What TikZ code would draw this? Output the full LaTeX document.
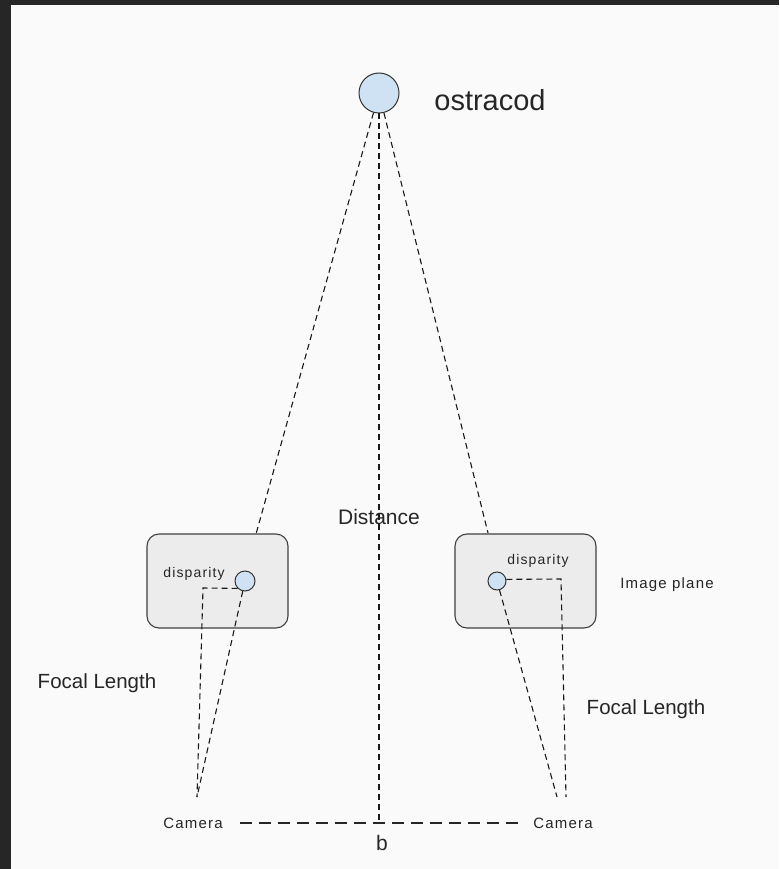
\documentclass[tikz,border=0pt]{standalone}
\usepackage{fontspec}
\setmainfont{Liberation Sans}
\newfontfamily\spacedfont[LetterSpace=8]{Liberation Sans}
\usetikzlibrary{positioning}
\definecolor{ostrablue}{RGB}{207,226,243}
\definecolor{planegray}{RGB}{236,236,236}
\definecolor{framedark}{RGB}{38,38,38}
\definecolor{paper}{RGB}{250,250,250}

\begin{document}
\begin{tikzpicture}[x=1pt, y=-1pt,
    blob/.style={circle, draw=black!80, fill=ostrablue, inner sep=0pt, minimum size=#1, line width=1pt},
    plane/.style={draw=black!75, fill=planegray, rounded corners=12pt, minimum width=141pt, minimum height=94pt, line width=1.1pt},
    lbl/.style={font=\fontsize{#1}{#1}\selectfont, text=black!85, inner sep=1pt},
    small/.style={font=\spacedfont\fontsize{#1}{#1}\selectfont, text=black!85, inner sep=1pt},
    ray/.style={dash pattern=on 6pt off 4pt, line width=1.1pt, black!90},
    baseline/.style={dash pattern=on 12pt off 7pt, line width=1.2pt, black!85}
]
% frame and paper
\fill[paper] (0,0) rectangle (779,869);
\fill[framedark] (0,0) rectangle (779,5);
\fill[framedark] (0,0) rectangle (11,869);
\useasboundingbox (0,0) rectangle (779,869);

\node[blob=40pt] (ostracod) at (379,93) {};
\node[lbl=29] (ostratext) at (490,100) {ostracod};

\node[plane] (leftplane) at (217.5,581) {};
\node[plane] (rightplane) at (525.5,581) {};
\node[blob=20pt] (leftdisp) at (245,581) {};
\node[blob=18pt] (rightdisp) at (497,581) {};
\node[small=14] (leftdtext) at (194,574) {disparity};
\node[small=14] (rightdtext) at (538,561) {disparity};
\node[small=15] (imgplane) at (667,585) {Image plane};

\node[lbl=20.5] (focalleft) at (97,683) {Focal Length};
\node[lbl=20.5] (focalright) at (646,709) {Focal Length};
\node[small=15] (leftcam) at (193,823) {Camera};
\node[small=15] (rightcam) at (563,823) {Camera};

\coordinate (lefthit) at (256,534);
\coordinate (righthit) at (488,533);
\coordinate (leftfocus) at (197,797);
\coordinate (leftcorner) at (203,588);
\coordinate (rightfocus) at (557,797);
\coordinate (rightcorner) at (561,579);
\coordinate (rightfoot) at (566,797);
\coordinate (base) at (379,823);
\coordinate[right=16pt of leftcam] (baseleft);
\coordinate[left=14pt of rightcam] (baseright);

% rays from the ostracod
\draw[ray] (ostracod) -- (lefthit);
\draw[ray] (ostracod) -- (righthit);
\draw[ray] (ostracod) -- (base);

% left camera
\draw[ray] (leftdisp) -- (leftfocus);
\draw[ray] (leftdisp.225) -- (leftcorner) -- (leftfocus);

% right camera
\draw[ray] (rightdisp) -- (rightfocus);
\draw[ray] (rightdisp.10) -- (rightcorner) -- (rightfoot);

\draw[baseline] (baseleft) -- (baseright);

\node[lbl=21] (distance) at (379,517) {Distance};
\node[lbl=21] (b) at (382,843) {b};
\end{tikzpicture}
\end{document}
